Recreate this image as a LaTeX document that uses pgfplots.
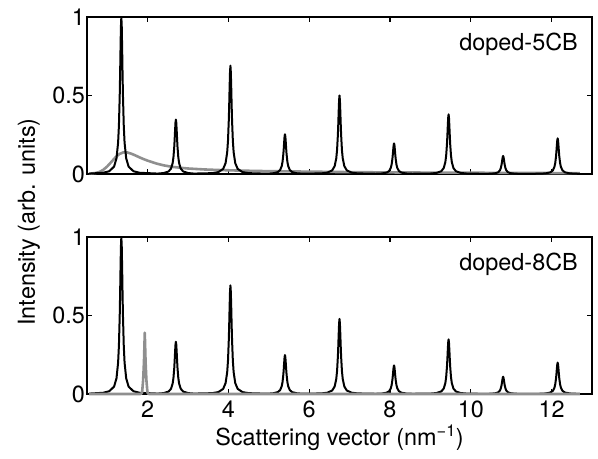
\documentclass[border=0pt]{standalone}
\usepackage{fontspec}
\setmainfont{TeX Gyre Heros}
\usepackage{pgfplots}
\usepackage{pgfplotstable}
\pgfplotsset{compat=1.18}
\definecolor{curvegray}{rgb}{0.56,0.56,0.56}

% Bragg peaks (harmonics of q0 = 1.35 nm^-1) for both samples
\pgfplotstableread{
x      top     bot
0.55   0.0025  0.0025
0.90   0.0078  0.0078
1.05   0.0175  0.0175
1.17   0.047   0.047
1.23   0.100   0.100
1.27   0.200   0.200
1.29   0.308   0.308
1.31   0.500   0.500
1.32   0.640   0.640
1.33   0.800   0.800
1.34   0.941   0.941
1.35   1.000   1.000
1.36   0.941   0.941
1.37   0.800   0.800
1.38   0.640   0.640
1.39   0.500   0.500
1.41   0.308   0.308
1.43   0.200   0.200
1.47   0.100   0.100
1.53   0.047   0.047
1.65   0.0175  0.0175
1.80   0.0078  0.0078
2.25   0.0027  0.0026
2.40   0.0061  0.0058
2.52   0.0163  0.0157
2.58   0.0347  0.0333
2.62   0.0694  0.0666
2.64   0.1069  0.1026
2.66   0.1735  0.1665
2.67   0.2221  0.2131
2.68   0.2776  0.2664
2.69   0.3265  0.3134
2.70   0.347   0.333
2.71   0.3265  0.3134
2.72   0.2776  0.2664
2.73   0.2221  0.2131
2.74   0.1735  0.1665
2.76   0.1069  0.1026
2.78   0.0694  0.0666
2.82   0.0347  0.0333
2.88   0.0163  0.0157
3.00   0.0061  0.0058
3.15   0.0027  0.0026
3.60   0.0054  0.0054
3.75   0.0121  0.0121
3.87   0.0324  0.0325
3.93   0.069   0.0692
3.97   0.138   0.1384
3.99   0.2125  0.2131
4.01   0.345   0.346
4.02   0.4416  0.4429
4.03   0.552   0.5536
4.04   0.6493  0.6512
4.05   0.690   0.692
4.06   0.6493  0.6512
4.07   0.552   0.5536
4.08   0.4416  0.4429
4.09   0.345   0.346
4.11   0.2125  0.2131
4.13   0.138   0.1384
4.17   0.069   0.0692
4.23   0.0324  0.0325
4.35   0.0121  0.0121
4.50   0.0054  0.0054
4.95   0.0020  0.0019
5.10   0.0044  0.0043
5.22   0.0119  0.0117
5.28   0.0253  0.0248
5.32   0.0506  0.0496
5.34   0.0779  0.0764
5.36   0.1265  0.124
5.37   0.1619  0.1587
5.38   0.2024  0.1984
5.39   0.2381  0.2334
5.40   0.253   0.248
5.41   0.2381  0.2334
5.42   0.2024  0.1984
5.43   0.1619  0.1587
5.44   0.1265  0.124
5.46   0.0779  0.0764
5.48   0.0506  0.0496
5.52   0.0253  0.0248
5.58   0.0119  0.0117
5.70   0.0044  0.0043
5.85   0.0020  0.0019
6.30   0.0039  0.0037
6.45   0.0088  0.0084
6.57   0.0235  0.0225
6.63   0.050   0.0478
6.67   0.100   0.0956
6.69   0.154   0.1472
6.71   0.250   0.239
6.72   0.320   0.3059
6.73   0.400   0.3824
6.74   0.4705  0.4498
6.75   0.500   0.478
6.76   0.4705  0.4498
6.77   0.400   0.3824
6.78   0.320   0.3059
6.79   0.250   0.239
6.81   0.154   0.1472
6.83   0.100   0.0956
6.87   0.050   0.0478
6.93   0.0235  0.0225
7.05   0.0088  0.0084
7.20   0.0039  0.0037
7.65   0.0015  0.0014
7.80   0.0034  0.0032
7.92   0.0092  0.0086
7.98   0.0195  0.0182
8.02   0.039   0.0364
8.04   0.0601  0.0561
8.06   0.0975  0.091
8.07   0.1248  0.1165
8.08   0.156   0.1456
8.09   0.1835  0.1713
8.10   0.195   0.182
8.11   0.1835  0.1713
8.12   0.156   0.1456
8.13   0.1248  0.1165
8.14   0.0975  0.091
8.16   0.0601  0.0561
8.18   0.039   0.0364
8.22   0.0195  0.0182
8.28   0.0092  0.0086
8.40   0.0034  0.0032
8.55   0.0015  0.0014
9.00   0.0030  0.0027
9.15   0.0067  0.0061
9.27   0.0179  0.0164
9.33   0.038   0.0348
9.37   0.076   0.0696
9.39   0.1170  0.1072
9.41   0.190   0.174
9.42   0.2432  0.2227
9.43   0.304   0.2784
9.44   0.3576  0.3275
9.45   0.380   0.348
9.46   0.3576  0.3275
9.47   0.304   0.2784
9.48   0.2432  0.2227
9.49   0.190   0.174
9.51   0.1170  0.1072
9.53   0.076   0.0696
9.57   0.038   0.0348
9.63   0.0179  0.0164
9.75   0.0067  0.0061
9.90   0.0030  0.0027
10.35  0.0009  0.0009
10.50  0.0020  0.0019
10.62  0.0054  0.0052
10.68  0.0115  0.011
10.72  0.023   0.022
10.74  0.0354  0.0339
10.76  0.0575  0.055
10.77  0.0736  0.0704
10.78  0.092   0.088
10.79  0.1082  0.1035
10.80  0.115   0.110
10.81  0.1082  0.1035
10.82  0.092   0.088
10.83  0.0736  0.0704
10.84  0.0575  0.055
10.86  0.0354  0.0339
10.88  0.023   0.022
10.92  0.0115  0.011
10.98  0.0054  0.0052
11.10  0.0020  0.0019
11.25  0.0009  0.0009
11.70  0.0018  0.0016
11.85  0.0040  0.0035
11.97  0.0107  0.0094
12.03  0.0227  0.020
12.07  0.0454  0.040
12.09  0.0699  0.0616
12.11  0.1135  0.100
12.12  0.1453  0.128
12.13  0.1816  0.160
12.14  0.2136  0.1882
12.15  0.227   0.200
12.16  0.2136  0.1882
12.17  0.1816  0.160
12.18  0.1453  0.128
12.19  0.1135  0.100
12.21  0.0699  0.0616
12.23  0.0454  0.040
12.27  0.0227  0.020
12.33  0.0107  0.0094
12.45  0.0040  0.0035
12.60  0.0018  0.0016
12.70  0.0012  0.0011
}\braggpeaks

% Broad diffuse scattering of doped-5CB
\pgfplotstableread{
x      y
0.55   0.002
0.70   0.006
0.80   0.012
0.90   0.026
1.00   0.048
1.10   0.076
1.20   0.105
1.30   0.127
1.40   0.138
1.45   0.139
1.50   0.137
1.60   0.129
1.70   0.118
1.80   0.106
1.90   0.095
2.00   0.085
2.20   0.068
2.40   0.055
2.60   0.046
2.80   0.040
3.00   0.035
3.40   0.029
3.80   0.025
4.40   0.021
5.00   0.018
6.00   0.015
7.00   0.012
8.00   0.010
9.00   0.009
10.00  0.008
11.00  0.007
12.00  0.006
12.70  0.006
}\diffusefive

% Sharp extra reflection of doped-8CB
\pgfplotstableread{
x      y
0.55   0
1.80   0
1.83   0.0004
1.86   0.0066
1.87   0.029
1.89   0.090
1.91   0.203
1.93   0.390
1.95   0.203
1.97   0.090
1.99   0.029
2.00   0.0066
2.03   0.0004
2.06   0
12.70  0
}\diffuseeight

\begin{document}
\begin{tikzpicture}[font=\fontsize{23.5}{28}\selectfont]
\useasboundingbox (0,0) rectangle (598bp,-459bp);
\pgfplotsset{
  panel/.style={
    scale only axis, width=505bp, height=157bp,
    xmin=0.5, xmax=13, ymin=0, ymax=1,
    xtick={2,4,...,12}, ytick={0,0.5,1}, yticklabels={0,0.5,1},
    tick align=inside, major tick length=5bp,
    axis line style={line width=1.2bp},
    every tick/.style={line width=1.2bp, black},
    /pgf/number format/assume math mode=true,
    yticklabel style={inner sep=2bp},
    xticklabel style={inner sep=2bp, yshift=-5bp},
    clip=false, anchor=north west,
  },
  bragg/.style={black, line width=2bp, line join=round},
  diffuse/.style={curvegray, line width=2.6bp, line join=round},
}

\begin{axis}[panel, at={(87bp,-17bp)}, xticklabels={}]
  \addplot[diffuse] table[x=x, y=y] {\diffusefive};
  \addplot[bragg] table[x=x, y=top] {\braggpeaks};
  \node[anchor=north east, inner sep=0pt, xshift=-14bp, yshift=-16bp]
    at (rel axis cs:1,1) {doped-5CB};
\end{axis}

\begin{axis}[panel, at={(87bp,-237bp)}]
  \addplot[bragg] table[x=x, y=bot] {\braggpeaks};
  \addplot[diffuse] table[x=x, y=y] {\diffuseeight};
  \node[anchor=north east, inner sep=0pt, xshift=-14bp, yshift=-16bp]
    at (rel axis cs:1,1) {doped-8CB};
\end{axis}

\node[rotate=90] at (29bp,-222bp) {Intensity (arb. units)};
\node[anchor=base] at (339.5bp,-445bp) {Scattering vector (nm\textsuperscript{\textminus1})};
\end{tikzpicture}
\end{document}
